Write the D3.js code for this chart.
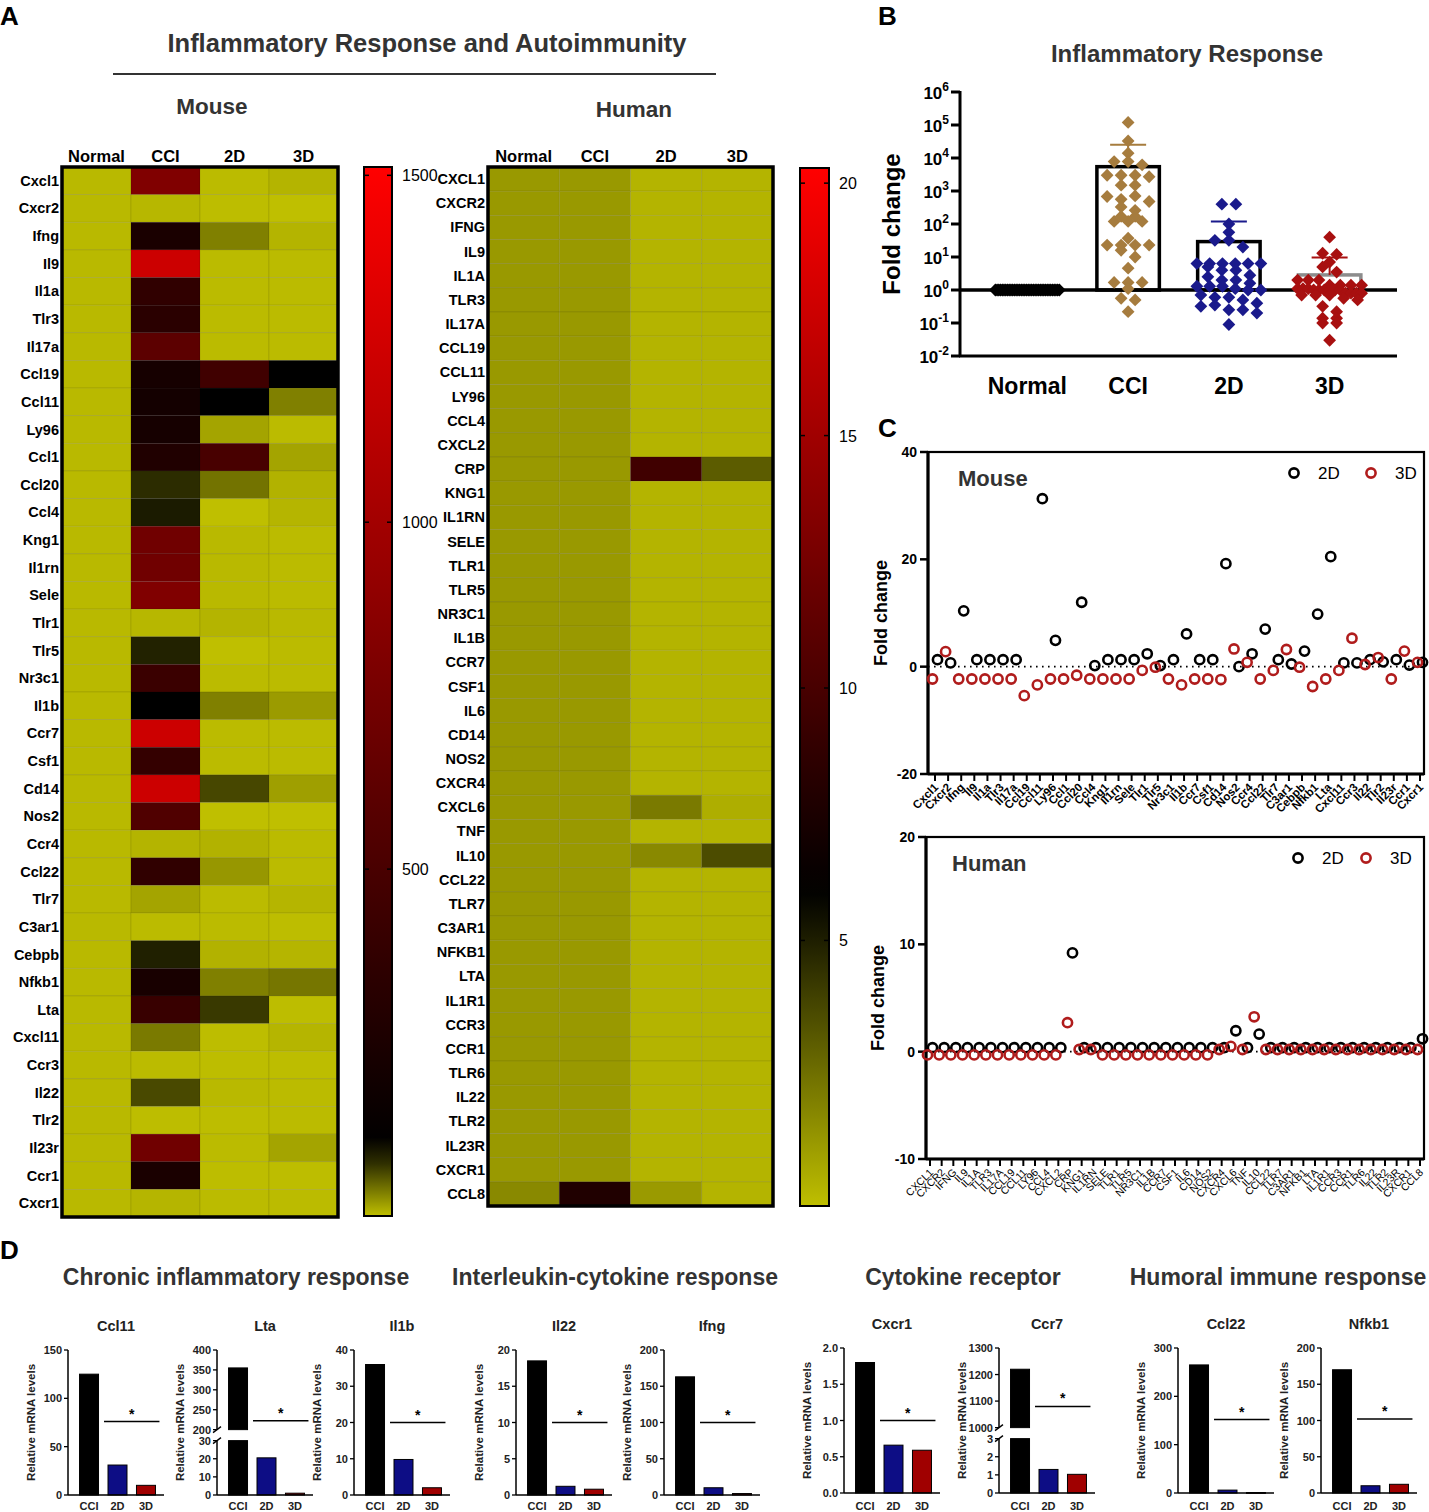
<!DOCTYPE html>
<html>
<head>
<meta charset="utf-8">
<script src="https://cdn.jsdelivr.net/npm/d3@7"></script>
<style>
body { margin: 0; background: #fff; }
svg { display: block; font-family: "Liberation Sans", Arial, sans-serif; }
</style>
</head>
<body>
<svg id="fig" width="1429" height="1512"></svg>
<script>

// ---------------- data ----------------
var heatCols = ["Normal", "CCI", "2D", "3D"];

var mouseGenes = ["Cxcl1","Cxcr2","Ifng","Il9","Il1a","Tlr3","Il17a","Ccl19","Ccl11","Ly96","Ccl1","Ccl20","Ccl4","Kng1","Il1rn","Sele","Tlr1","Tlr5","Nr3c1","Il1b","Ccr7","Csf1","Cd14","Nos2","Ccr4","Ccl22","Tlr7","C3ar1","Cebpb","Nfkb1","Lta","Cxcl11","Ccr3","Il22","Tlr2","Il23r","Ccr1","Cxcr1"];
var mouseHeatNormal = [3,3,3,3,3,3,3,3,3,3,3,3,3,3,3,3,3,3,3,3,3,3,3,3,3,3,3,3,3,3,3,3,3,3,3,3,3,3];
var mouseHeatCCI = [808,4,244,1228,365,332,609,222,211,222,277,77,86,720,720,808,4,82,420,100,1228,388,1228,542,6,365,14,2,83,233,410,36,2,62,1,720,244,5];
var mouseHeat2D = [2,1,33,2,2,2,2,454,100,14,498,40,0,3,3,3,6,0,2,33,2,2,63,0,7,21,2,2,7,33,70,1,1,3,1,2,1,2];
var mouseHeat3D = [6,0,6,2,2,2,2,100,33,2,14,7,5,2,2,2,3,2,2,19,2,2,17,0,2,2,5,1,5,38,1,5,1,2,2,14,1,2];
var mouseBarTicks = [500, 1000, 1500];

var humanGenes = ["CXCL1","CXCR2","IFNG","IL9","IL1A","TLR3","IL17A","CCL19","CCL11","LY96","CCL4","CXCL2","CRP","KNG1","IL1RN","SELE","TLR1","TLR5","NR3C1","IL1B","CCR7","CSF1","IL6","CD14","NOS2","CXCR4","CXCL6","TNF","IL10","CCL22","TLR7","C3AR1","NFKB1","LTA","IL1R1","CCR3","CCR1","TLR6","IL22","TLR2","IL23R","CXCR1","CCL8"];
var humanHeatNormal = [1,1,1,1,1,1,1,1,1,1,1,1,1,1,1,1,1,1,1,1,1,1,1,1,1,1,1,1,1,1,1,1,1,1,1,1,1,1,1,1,1,1,1.5];
var humanHeatCCI = [1,1,1,1,1,1,1,1,1,1,1,1,1,1,1,1,1,1,1,1,1,1,1,1,1,1,1,1,1,1,1,1,1,1,1,1,1,1,1,1,1,1,7.8];
var humanHeat2D = [0.1,0.1,0.1,0.1,0.1,0.1,0.1,0.1,0.1,0.1,0.1,0.1,9.6,0.1,0.1,0.1,0.1,0.1,0.1,0.1,0.1,0.1,0.1,0.1,0.1,0.1,2.0,0.1,1.5,0.1,0.1,0.1,0.1,0.1,0.1,0.1,0.1,0.1,0.1,0.1,0.1,0.1,0.95];
var humanHeat3D = [0.1,0.1,0.1,0.1,0.1,0.1,0.1,0.1,0.1,0.1,0.1,0.1,3.0,0.1,0.1,0.1,0.1,0.1,0.1,0.1,0.1,0.1,0.1,0.1,0.1,0.1,0.3,0.1,3.5,0.1,0.1,0.1,0.1,0.1,0.1,0.1,0.1,0.1,0.1,0.1,0.1,0.1,0.1];
var humanBarTicks = [5, 10, 15, 20];

// panel B: fold change per gene (mouse)
var bGroups = ["Normal", "CCI", "2D", "3D"];
var bNormal = [1,1,1,1,1,1,1,1,1,1,1,1,1,1,1,1,1,1,1,1,1,1,1,1,1,1,1,1,1,1,1,1,1,1,1,1,1,1];
var bCCI = [120000,33000,14000,7800,7800,6200,3000,3000,3000,2700,1500,1500,680,560,710,480,330,260,170,170,120,120,120,37,23,23,23,23,16,10,4.6,1.7,1.7,1.7,1.1,0.56,0.5,0.22];
var b2D = [400,400,100,56,32,32,20,6.3,6.3,6.3,6.3,6.3,6.3,5,4,4,2.8,2.5,2,2,1.6,1.3,1.3,1.3,1.1,1,1,0.7,0.6,0.6,0.5,0.4,0.32,0.35,0.25,0.25,0.2,0.09];
var b3D = [40,13,12,7,5,3.5,2,2,2,1.4,1.4,1.4,1.4,1.1,1.1,1.1,1,1,1,1,1,1,0.8,0.8,0.8,0.8,0.7,0.7,0.7,0.56,0.5,0.32,0.22,0.14,0.14,0.1,0.1,0.03];

// panel C: fold change 2D / 3D
var mouse2DFold = [1.3,0.7,10.4,1.3,1.3,1.3,1.3,null,31.3,4.9,null,12.0,0.2,1.3,1.3,1.3,2.4,0.2,1.3,6.1,1.3,1.3,19.2,0,2.4,7.0,1.3,0.5,2.9,9.8,20.5,0.7,0.7,1.3,0.9,1.3,0.3,0.8];
var mouse3DFold = [-2.3,2.8,-2.3,-2.3,-2.3,-2.3,-2.3,-5.4,-3.4,-2.3,-2.3,-1.6,-2.3,-2.3,-2.3,-2.3,-0.7,-0.1,-2.3,-3.4,-2.3,-2.3,-2.4,3.3,0.8,-2.3,-0.7,3.2,-0.1,-3.7,-2.3,-0.7,5.3,0.4,1.7,-2.3,2.9,0.8];
var human2DFold = [0.37,0.37,0.37,0.37,0.37,0.37,0.37,0.37,0.37,0.37,0.37,0.37,9.2,0.37,0.37,0.37,0.37,0.37,0.37,0.37,0.37,0.37,0.37,0.37,0.37,0.37,1.95,0.37,1.64,0.37,0.37,0.37,0.37,0.37,0.37,0.37,0.37,0.37,0.37,0.37,0.37,0.37,1.2];
var human3DFold = [-0.3,-0.3,-0.3,-0.3,-0.3,-0.3,-0.3,-0.3,-0.3,-0.3,-0.3,-0.3,2.7,0.2,0.2,-0.3,-0.3,-0.3,-0.3,-0.3,-0.3,-0.3,-0.3,-0.3,-0.3,0.2,0.5,0.2,3.25,0.2,0.2,0.2,0.2,0.2,0.2,0.2,0.2,0.2,0.2,0.2,0.2,0.2,0.2];
var mouseFoldTicks = [-20, 0, 20, 40];
var humanFoldTicks = [-10, 0, 10, 20];

// panel D: relative mRNA levels
var dGroupTitles = ["Chronic inflammatory response", "Interleukin-cytokine response", "Cytokine receptor", "Humoral immune response"];
var dGroupOf = [0,0,0,1,1,2,2,3,3];
var dGenes = ["Ccl11","Lta","Il1b","Il22","Ifng","Cxcr1","Ccr7","Ccl22","Nfkb1"];
var dCCI = [125, 355, 36, 18.5, 163, 1.8, 1220, 265, 170];
var d2D = [31, 20.5, 9.8, 1.2, 10, 0.66, 1.3, 6, 10];
var d3D = [10, 1, 2, 0.8, 2, 0.59, 1.03, 1, 12];
var dTop = [150, 400, 40, 20, 200, 2, 1300, 300, 200];
var dStep = [50, 50, 10, 5, 50, 0.5, 100, 100, 50];
var dBreakLow = [null, 30, null, null, null, null, 3, null, null];
var dBreakHigh = [null, 200, null, null, null, null, 1000, null, null];
var dLowStep = [null, 10, null, null, null, null, 1, null, null];
var dSig = [76, 222, 20, 10, 100, 1.0, 1080, 152, 102];

// ---------------- drawing ----------------
var svg = d3.select("#fig");
svg.append("rect").attr("width", 1429).attr("height", 1512).attr("fill", "#fff");
var defs = svg.append("defs");

var yellow = "#bfbf00";

function txt(g, x, y, s, size, weight, anchor, fill) {
    return g.append("text").attr("x", x).attr("y", y).text(s)
        .style("font-size", size + "px").style("font-weight", weight || "normal")
        .attr("text-anchor", anchor || "start").attr("fill", fill || "#000");
}

// panel letters
txt(svg, 0, 25, "A", 26, "bold");
txt(svg, 878, 25, "B", 26, "bold");
txt(svg, 878, 437, "C", 26, "bold");
txt(svg, 0, 1259, "D", 26, "bold");

// ===== Panel A =====
txt(svg, 427, 52, "Inflammatory Response and Autoimmunity", 25.5, "bold", "middle", "#333");
svg.append("line").attr("x1", 113).attr("x2", 716).attr("y1", 74).attr("y2", 74)
    .attr("stroke", "#333").attr("stroke-width", 1.8);
txt(svg, 212, 114, "Mouse", 22.5, "bold", "middle", "#333");
txt(svg, 634, 117, "Human", 22.5, "bold", "middle", "#333");

var mouseColor = d3.scaleLinear().domain([0, 100, 1512]).range([yellow, "#000000", "#ff0000"]).clamp(true);
var humanColor = d3.scaleLinear().domain([-0.26, 6, 20.3]).range([yellow, "#000000", "#ff0000"]).clamp(true);

function heatmap(cfg) {
    var g = svg.append("g");
    var x = d3.scaleBand().domain(heatCols).range([cfg.x0, cfg.x1]);
    var y = d3.scaleBand().domain(cfg.genes).range([cfg.y0, cfg.y1]);
    var cells = [];
    cfg.cols.forEach(function(col, j) {
        col.forEach(function(v, i) {
            cells.push({gene: cfg.genes[i], col: heatCols[j], v: v});
        });
    });
    g.selectAll("rect.cell").data(cells).join("rect")
        .attr("class", "cell")
        .attr("x", function(d) { return x(d.col); })
        .attr("y", function(d) { return y(d.gene); })
        .attr("width", x.bandwidth())
        .attr("height", y.bandwidth())
        .attr("fill", function(d) { return cfg.color(d.v); })
        .attr("stroke", "rgba(0,0,0,0.13)").attr("stroke-width", 0.7);
    g.append("rect").attr("x", cfg.x0).attr("y", cfg.y0)
        .attr("width", cfg.x1 - cfg.x0).attr("height", cfg.y1 - cfg.y0)
        .attr("fill", "none").attr("stroke", "#000").attr("stroke-width", 3.5);
    heatCols.forEach(function(c) {
        txt(g, x(c) + x.bandwidth() / 2, cfg.y0 - 5, c, 16.5, "bold", "middle");
    });
    cfg.genes.forEach(function(gn) {
        txt(g, cfg.x0 - 3, y(gn) + y.bandwidth() / 2 + 5, gn, 14.5, "bold", "end");
    });
}

function colorbar(cfg) {
    var g = svg.append("g");
    var ys = d3.scaleLinear().domain(cfg.domain).range([cfg.y1, cfg.y0]);
    var grad = defs.append("linearGradient").attr("id", cfg.id)
        .attr("x1", 0).attr("y1", 0).attr("x2", 0).attr("y2", 1);
    d3.range(0, 41).forEach(function(k) {
        var v = cfg.domain[1] - (cfg.domain[1] - cfg.domain[0]) * k / 40;
        grad.append("stop").attr("offset", (k / 40 * 100) + "%").attr("stop-color", cfg.color(v));
    });
    g.append("rect").attr("x", cfg.x).attr("y", cfg.y0).attr("width", cfg.w)
        .attr("height", cfg.y1 - cfg.y0).attr("fill", "url(#" + cfg.id + ")")
        .attr("stroke", "#000").attr("stroke-width", 2);
    cfg.ticks.forEach(function(t) {
        var yy = ys(t);
        g.append("line").attr("x1", cfg.x).attr("x2", cfg.x + 5).attr("y1", yy).attr("y2", yy)
            .attr("stroke", "#000").attr("stroke-width", 1.5);
        g.append("line").attr("x1", cfg.x + cfg.w - 5).attr("x2", cfg.x + cfg.w).attr("y1", yy).attr("y2", yy)
            .attr("stroke", "#000").attr("stroke-width", 1.5);
        txt(g, cfg.x + cfg.w + 10, yy + 6, t, 16, "normal");
    });
}

heatmap({genes: mouseGenes, cols: [mouseHeatNormal, mouseHeatCCI, mouseHeat2D, mouseHeat3D],
         x0: 62, x1: 338, y0: 167, y1: 1217, color: mouseColor});
colorbar({id: "gradMouse", x: 364, w: 28, y0: 167, y1: 1216, domain: [0, 1512], color: mouseColor, ticks: mouseBarTicks});
heatmap({genes: humanGenes, cols: [humanHeatNormal, humanHeatCCI, humanHeat2D, humanHeat3D],
         x0: 488, x1: 773, y0: 167, y1: 1206, color: humanColor});
colorbar({id: "gradHuman", x: 800, w: 29, y0: 168, y1: 1206, domain: [-0.26, 20.3], color: humanColor, ticks: humanBarTicks});

// ===== Panel B =====
(function() {
    var g = svg.append("g");
    var axX = 960;
    txt(g, 1187, 62, "Inflammatory Response", 24, "bold", "middle", "#333");
    var yB = d3.scaleLog().domain([0.01, 1e6]).range([356, 92]);
    var xB = d3.scaleBand().domain(bGroups).range([977, 1380]).paddingInner(0.38).paddingOuter(0.19);
    var groupColor = {"Normal": "#000000", "CCI": "#a67c3e", "2D": "#1a1a8c", "3D": "#a81010"};
    var groupData = {"Normal": bNormal, "CCI": bCCI, "2D": b2D, "3D": b3D};
    var edgeColor = {"CCI": "#000", "2D": "#000", "3D": "#8c8c8c"};

    // axes
    g.append("line").attr("x1", axX).attr("x2", axX).attr("y1", 91).attr("y2", 357)
        .attr("stroke", "#000").attr("stroke-width", 3);
    g.append("line").attr("x1", axX - 1).attr("x2", 1397).attr("y1", 356).attr("y2", 356)
        .attr("stroke", "#000").attr("stroke-width", 3);
    d3.range(-2, 7).forEach(function(e) {
        var yy = yB(Math.pow(10, e));
        g.append("line").attr("x1", axX - 9).attr("x2", axX).attr("y1", yy).attr("y2", yy)
            .attr("stroke", "#000").attr("stroke-width", 3);
        var t = g.append("text").attr("x", axX - 11).attr("y", yy + 7).attr("text-anchor", "end")
            .style("font-size", "17px").style("font-weight", "bold");
        t.append("tspan").text("10");
        t.append("tspan").attr("dy", -8).style("font-size", "12px").text(e);
    });
    g.append("text").attr("transform", "translate(900,224) rotate(-90)")
        .attr("text-anchor", "middle").style("font-size", "24px").style("font-weight", "bold").text("Fold change");

    bGroups.forEach(function(k) {
        txt(g, xB(k) + xB.bandwidth() / 2, 394, k, 23, "bold", "middle");
    });

    // bars (mean) and error bars (mean + SD)
    ["CCI", "2D", "3D"].forEach(function(k) {
        var vals = groupData[k];
        var m = d3.mean(vals), sd = d3.deviation(vals);
        g.append("rect").attr("x", xB(k)).attr("y", yB(m)).attr("width", xB.bandwidth())
            .attr("height", yB(1) - yB(m)).attr("fill", "#fff")
            .attr("stroke", edgeColor[k]).attr("stroke-width", 3.5);
        var cx = xB(k) + xB.bandwidth() / 2;
        g.append("line").attr("x1", cx).attr("x2", cx).attr("y1", yB(m)).attr("y2", yB(m + sd))
            .attr("stroke", groupColor[k]).attr("stroke-width", 2);
        g.append("line").attr("x1", cx - 18).attr("x2", cx + 18).attr("y1", yB(m + sd)).attr("y2", yB(m + sd))
            .attr("stroke", groupColor[k]).attr("stroke-width", 2);
    });

    // baseline at 10^0
    g.append("line").attr("x1", axX - 1).attr("x2", 1397).attr("y1", yB(1)).attr("y2", yB(1))
        .attr("stroke", "#000").attr("stroke-width", 3.5);

    // points, binned in log space and spread sideways
    var diamond = d3.symbol().type(d3.symbolSquare).size(82);
    bGroups.forEach(function(k) {
        var vals = groupData[k];
        var bins = d3.group(vals.map(function(v, i) { return {v: v, i: i}; }),
            function(d) { return Math.round(Math.log10(d.v) / 0.28); });
        var pts = [];
        var cx = xB(k) + xB.bandwidth() / 2;
        bins.forEach(function(arr) {
            var n = arr.length;
            var sp = n > 1 ? Math.min(14, 64 / (n - 1)) : 0;
            arr.forEach(function(d, j) {
                pts.push({v: d.v, x: cx + (j - (n - 1) / 2) * sp});
            });
        });
        g.selectAll(null).data(pts).join("path")
            .attr("d", diamond)
            .attr("transform", function(d) { return "translate(" + d.x + "," + yB(d.v) + ") rotate(45)"; })
            .attr("fill", groupColor[k]);
    });
})();

// ===== Panel C =====
function foldScatter(cfg) {
    var g = svg.append("g");
    var x = d3.scalePoint().domain(cfg.genes).range([cfg.xa, cfg.xb]);
    var y = d3.scaleLinear().domain(cfg.yDomain).range([cfg.y1, cfg.y0]);
    g.append("rect").attr("x", cfg.left).attr("y", cfg.y0).attr("width", cfg.right - cfg.left)
        .attr("height", cfg.y1 - cfg.y0).attr("fill", "none").attr("stroke", "#000").attr("stroke-width", 2.2);
    g.append("line").attr("x1", cfg.left).attr("x2", cfg.left).attr("y1", cfg.y0 - 1).attr("y2", cfg.y1 + 1)
        .attr("stroke", "#000").attr("stroke-width", 3.2);
    g.append("line").attr("x1", cfg.left).attr("x2", cfg.right).attr("y1", cfg.y1).attr("y2", cfg.y1)
        .attr("stroke", "#000").attr("stroke-width", 3.2);
    cfg.ticks.forEach(function(t) {
        g.append("line").attr("x1", cfg.left - 8).attr("x2", cfg.left).attr("y1", y(t)).attr("y2", y(t))
            .attr("stroke", "#000").attr("stroke-width", 2.5);
        txt(g, cfg.left - 11, y(t) + 5, t, 14, "bold", "end");
    });
    g.append("line").attr("x1", cfg.left).attr("x2", cfg.right).attr("y1", y(0)).attr("y2", y(0))
        .attr("stroke", "#000").attr("stroke-width", 1.6).attr("stroke-dasharray", "1.6,4.4");
    g.append("text").attr("transform", "translate(" + cfg.ylabX + "," + ((cfg.y0 + cfg.y1) / 2) + ") rotate(-90)")
        .attr("text-anchor", "middle").style("font-size", "18px").style("font-weight", "bold").text("Fold change");

    cfg.genes.forEach(function(gn) {
        var xx = x(gn);
        g.append("line").attr("x1", xx).attr("x2", xx).attr("y1", cfg.y1).attr("y2", cfg.y1 + 7)
            .attr("stroke", "#000").attr("stroke-width", 2);
        g.append("text").attr("transform", "translate(" + (xx + 4) + "," + (cfg.y1 + 14) + ") rotate(-45)")
            .attr("text-anchor", "end").style("font-size", cfg.labSize + "px")
            .style("font-weight", cfg.labWeight).text(gn);
    });

    var d2 = cfg.genes.map(function(gn, i) { return {g: gn, v: cfg.v2[i]}; }).filter(function(d) { return d.v != null; });
    var d3p = cfg.genes.map(function(gn, i) { return {g: gn, v: cfg.v3[i]}; }).filter(function(d) { return d.v != null; });
    g.selectAll(null).data(d2).join("circle")
        .attr("cx", function(d) { return x(d.g) + 2.5; }).attr("cy", function(d) { return y(d.v); })
        .attr("r", 4.6).attr("fill", "none").attr("stroke", "#000").attr("stroke-width", 2.6);
    g.selectAll(null).data(d3p).join("circle")
        .attr("cx", function(d) { return x(d.g) - 2.5; }).attr("cy", function(d) { return y(d.v); })
        .attr("r", 4.6).attr("fill", "none").attr("stroke", "#b01c1c").attr("stroke-width", 2.6);

    txt(g, cfg.nameX, cfg.y0 + 34, cfg.name, 22, "bold", "start", "#333");
    var ly = cfg.y0 + 21;
    g.append("circle").attr("cx", cfg.legX).attr("cy", ly).attr("r", 4.6).attr("fill", "none")
        .attr("stroke", "#000").attr("stroke-width", 2.6);
    txt(g, cfg.legX + 24, ly + 6, "2D", 17, "normal");
    g.append("circle").attr("cx", cfg.legX + cfg.legGap).attr("cy", ly).attr("r", 4.6).attr("fill", "none")
        .attr("stroke", "#b01c1c").attr("stroke-width", 2.6);
    txt(g, cfg.legX + cfg.legGap + 24, ly + 6, "3D", 17, "normal");
}

foldScatter({genes: mouseGenes, v2: mouse2DFold, v3: mouse3DFold, yDomain: [-20, 40], ticks: mouseFoldTicks,
             left: 928, right: 1424, y0: 452, y1: 774, xa: 935, xb: 1420, ylabX: 887,
             labSize: 11.5, labWeight: "bold", name: "Mouse", nameX: 958, legX: 1294, legGap: 77});
foldScatter({genes: humanGenes, v2: human2DFold, v3: human3DFold, yDomain: [-10, 20], ticks: humanFoldTicks,
             left: 926, right: 1424, y0: 837, y1: 1159, xa: 930, xb: 1420, ylabX: 884,
             labSize: 10.5, labWeight: "normal", name: "Human", nameX: 952, legX: 1298, legGap: 68});

// ===== Panel D =====
(function() {
    var g = svg.append("g");
    var axisX = [68, 217, 354, 516, 664, 844, 999, 1178, 1321];
    var titleX = [236, 615, 963, 1278];
    var barColor = {"CCI": "#000000", "2D": "#0d0d85", "3D": "#a00000"};
    dGroupTitles.forEach(function(t, i) {
        txt(g, titleX[i], 1285, t, 23, "bold", "middle", "#333");
    });

    dGenes.forEach(function(gene, i) {
        var ax = axisX[i];
        var right = dGroupOf[i] >= 2;
        var ytop = right ? 1348 : 1350, ybot = right ? 1493 : 1495;
        var x = d3.scaleBand().domain(["CCI", "2D", "3D"]).range([ax + 3, ax + 96])
            .paddingInner(1 / 3).paddingOuter(0.3);
        var vals = {"CCI": dCCI[i], "2D": d2D[i], "3D": d3D[i]};
        var yOf, segs = [];
        if (dBreakLow[i] != null) {
            var lowH = 0.375 * (ybot - ytop), gap = 11;
            var yl = d3.scaleLinear().domain([0, dBreakLow[i]]).range([ybot, ybot - lowH]);
            var yh = d3.scaleLinear().domain([dBreakHigh[i], dTop[i]]).range([ybot - lowH - gap, ytop]);
            segs.push({s: yl, step: dLowStep[i]});
            segs.push({s: yh, step: dStep[i]});
            yOf = function(v) { return v <= dBreakLow[i] ? yl(v) : yh(Math.max(v, dBreakHigh[i])); };
            ["CCI", "2D", "3D"].forEach(function(k) {
                var v = vals[k];
                var parts = v > dBreakLow[i] ? [[0, dBreakLow[i], yl], [dBreakHigh[i], v, yh]] : [[0, v, yl]];
                parts.forEach(function(p) {
                    g.append("rect").attr("x", x(k)).attr("width", x.bandwidth())
                        .attr("y", p[2](p[1])).attr("height", Math.max(0.8, p[2](p[0]) - p[2](p[1])))
                        .attr("fill", barColor[k]).attr("stroke", "#000").attr("stroke-width", 1);
                });
            });
            // break marks
            [yl.range()[1], yh.range()[0]].forEach(function(yy) {
                g.append("line").attr("x1", ax - 4).attr("x2", ax + 4).attr("y1", yy + 3).attr("y2", yy - 3)
                    .attr("stroke", "#000").attr("stroke-width", 1.3);
            });
        } else {
            var ys = d3.scaleLinear().domain([0, dTop[i]]).range([ybot, ytop]);
            segs.push({s: ys, step: dStep[i]});
            yOf = ys;
            ["CCI", "2D", "3D"].forEach(function(k) {
                g.append("rect").attr("x", x(k)).attr("width", x.bandwidth())
                    .attr("y", ys(vals[k])).attr("height", Math.max(0.8, ys(0) - ys(vals[k])))
                    .attr("fill", barColor[k]).attr("stroke", "#000").attr("stroke-width", 1);
            });
        }
        // y axis segments
        segs.forEach(function(sg) {
            var r = sg.s.range(), dmn = sg.s.domain();
            g.append("line").attr("x1", ax).attr("x2", ax).attr("y1", r[0]).attr("y2", r[1])
                .attr("stroke", "#000").attr("stroke-width", 1.5);
            d3.range(dmn[0], dmn[1] + sg.step / 2, sg.step).forEach(function(t) {
                var yy = sg.s(t);
                g.append("line").attr("x1", ax - 4).attr("x2", ax).attr("y1", yy).attr("y2", yy)
                    .attr("stroke", "#000").attr("stroke-width", 1.3);
                var lab = sg.step < 1 ? d3.format(".1f")(t) : d3.format("d")(t);
                txt(g, ax - 6, yy + 4, lab, 11, "bold", "end", "#222");
            });
        });
        g.append("line").attr("x1", ax).attr("x2", ax + 96).attr("y1", ybot).attr("y2", ybot)
            .attr("stroke", "#000").attr("stroke-width", 1.5);
        ["CCI", "2D", "3D"].forEach(function(k) {
            txt(g, x(k) + x.bandwidth() / 2, 1510, k, 11, "bold", "middle", "#222");
        });
        txt(g, ax + 48, ytop - 19, gene, 14.5, "bold", "middle", "#222");
        g.append("text").attr("transform", "translate(" + (ax - 33) + "," + ((ytop + ybot) / 2) + ") rotate(-90)")
            .attr("text-anchor", "middle").style("font-size", "11.5px").style("font-weight", "bold")
            .attr("fill", "#222").text("Relative mRNA levels");
        // significance bar
        var sy = yOf(dSig[i]);
        var sx1 = x("2D") - 4, sx2 = x("3D") + x.bandwidth() + 4;
        g.append("line").attr("x1", sx1).attr("x2", sx2).attr("y1", sy).attr("y2", sy)
            .attr("stroke", "#000").attr("stroke-width", 1.5);
        txt(g, (sx1 + sx2) / 2, sy - 3, "*", 14, "bold", "middle");
    });
})();
</script>
</body>
</html>
